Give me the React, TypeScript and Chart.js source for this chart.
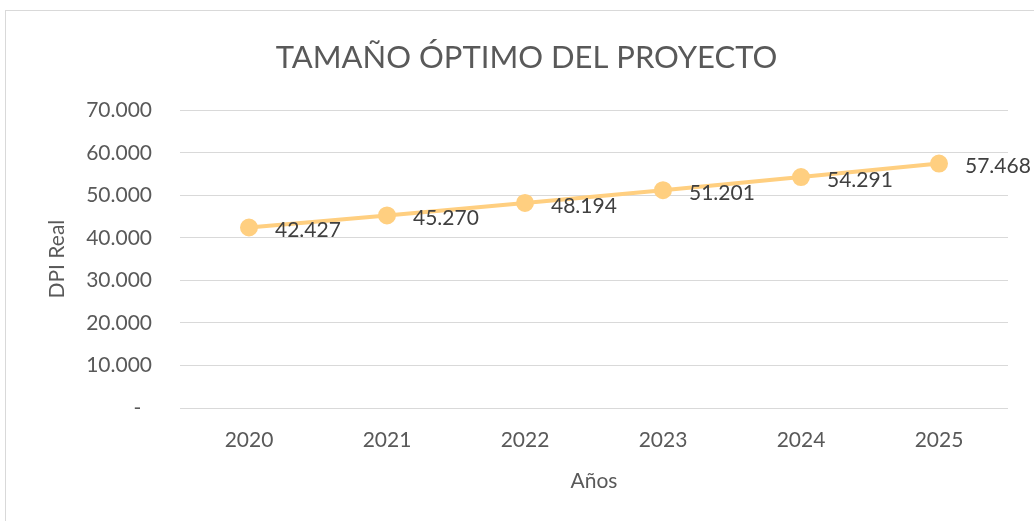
import React, { useEffect, useRef } from "react";
import { Chart, registerables } from "chart.js";

Chart.register(...registerables);

const categories = ["2020", "2021", "2022", "2023", "2024", "2025"];
const dpiValues = [42427, 45270, 48194, 51201, 54291, 57468];
const valueLabels = ["42.427", "45.270", "48.194", "51.201", "54.291", "57.468"];
const yTickLabels = ["-  ", "10.000", "20.000", "30.000", "40.000", "50.000", "60.000", "70.000"];

const FONT = "Lato, 'Open Sans', sans-serif";
const TEXT = "#595959";
const LINE = "rgb(255,207,128)";

const labelPlugin = {
  id: "valueLabels",
  afterDatasetsDraw(chart: any) {
    const meta = chart.getDatasetMeta(0);
    const ctx = chart.ctx;
    ctx.save();
    ctx.font = `21px ${FONT}`;
    ctx.fillStyle = "#404040";
    ctx.textAlign = "left";
    ctx.textBaseline = "middle";
    meta.data.forEach((pt: any, i: number) => {
      ctx.fillText(valueLabels[i], pt.x + 26, pt.y + 3);
    });
    ctx.restore();
  },
};

export default function App() {
  const ref = useRef<HTMLCanvasElement | null>(null);
  useEffect(() => {
    document.body.style.margin = "0";
    if (!ref.current) return;
    const chart = new Chart(ref.current, {
      type: "line",
      data: {
        labels: categories,
        datasets: [
          {
            data: dpiValues,
            borderColor: LINE,
            backgroundColor: LINE,
            borderWidth: 4,
            pointRadius: 7,
            pointHoverRadius: 7,
            pointBackgroundColor: LINE,
            pointBorderColor: LINE,
            tension: 0,
          },
        ],
      },
      options: {
        animation: false,
        responsive: false,
        layout: { padding: { left: 45, right: 26, top: 1, bottom: 27 } },
        plugins: {
          legend: { display: false },
          tooltip: { enabled: false },
          title: {
            display: true,
            text: "TAMAÑO ÓPTIMO DEL PROYECTO",
            color: TEXT,
            font: { family: FONT, size: 31, weight: "normal" },
            padding: { top: 38, bottom: 34 },
          },
        },
        scales: {
          x: {
            offset: true,
            grid: { display: false, drawTicks: false },
            border: { display: false },
            ticks: {
              color: TEXT,
              font: { family: FONT, size: 21 },
              padding: 20,
              maxRotation: 0,
            },
            title: {
              display: true,
              text: "Años",
              color: TEXT,
              font: { family: FONT, size: 21 },
              padding: 0,
            },
            afterFit(scale: any) {
              scale.height = 86;
            },
          },
          y: {
            min: 0,
            max: 70000,
            grid: { color: "#D9D9D9", lineWidth: 1, drawTicks: false },
            border: { display: false },
            ticks: {
              stepSize: 10000,
              color: TEXT,
              font: { family: FONT, size: 21 },
              padding: 28,
              callback: (_v: any, i: number) => yTickLabels[i],
            },
            title: {
              display: true,
              text: "DPI Real",
              color: TEXT,
              font: { family: FONT, size: 21 },
              padding: 0,
            },
            afterFit(scale: any) {
              scale.width = 135;
            },
          },
        },
      },
      plugins: [labelPlugin],
    });
    return () => chart.destroy();
  }, []);

  return (
    <div style={{ position: "relative", width: 1034, height: 521, overflow: "hidden", background: "#fff" }}>
      <div
        style={{
          position: "absolute",
          left: 5,
          top: 10,
          width: 1100,
          height: 600,
          border: "1px solid #D9D9D9",
          boxSizing: "border-box",
        }}
      />
      <canvas ref={ref} width={1034} height={521} style={{ position: "absolute", left: 0, top: 0, display: "block" }} />
    </div>
  );
}
